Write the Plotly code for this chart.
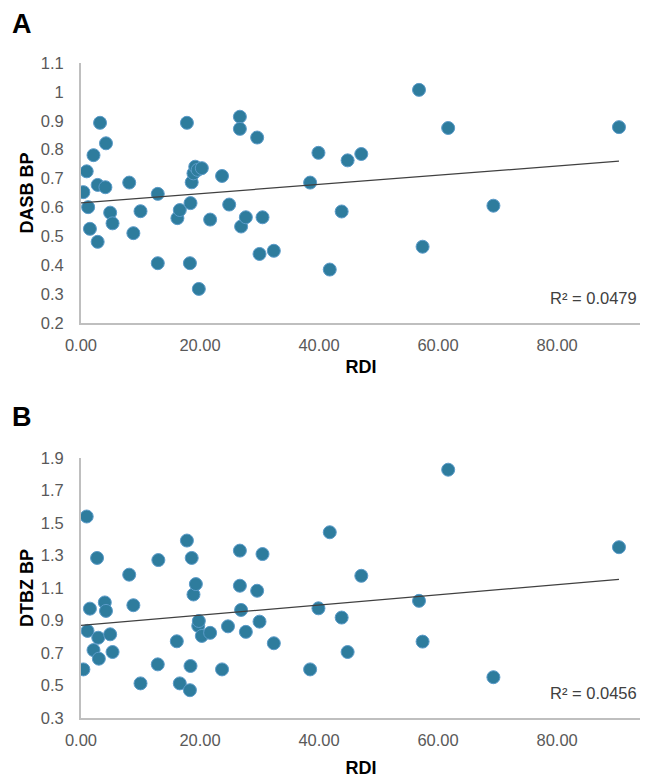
import numpy as np
import plotly.graph_objects as go

# Panel A: RDI vs DASB BP
rdi_a = [0.4, 0.96, 1.2, 1.5, 2.1, 2.8, 2.8, 3.2, 4.1, 4.2, 4.9, 5.3, 8.1, 8.8,
         10.0, 12.9, 12.9, 16.2, 16.6, 17.8, 18.3, 18.4, 18.6, 18.9, 19.2, 19.6,
         19.8, 20.3, 21.7, 23.7, 24.9, 26.7, 26.7, 26.9, 27.7, 29.6, 30.0, 30.5,
         32.4, 38.5, 39.9, 41.8, 43.8, 44.8, 47.1, 56.8, 57.4, 61.7, 69.3, 90.4]
dasb_bp = [0.653, 0.725, 0.601, 0.526, 0.781, 0.678, 0.481, 0.893, 0.670, 0.822,
           0.582, 0.545, 0.686, 0.511, 0.587, 0.647, 0.407, 0.563, 0.591, 0.893,
           0.407, 0.615, 0.687, 0.718, 0.741, 0.730, 0.318, 0.736, 0.558, 0.709,
           0.610, 0.914, 0.872, 0.534, 0.566, 0.842, 0.439, 0.566, 0.450, 0.686,
           0.789, 0.385, 0.586, 0.763, 0.785, 1.007, 0.464, 0.875, 0.606, 0.878]

# Panel B: RDI vs DTBZ BP
rdi_b = [0.4, 0.96, 1.1, 1.5, 2.1, 2.7, 2.9, 3.0, 4.0, 4.2, 4.9, 5.3, 8.1, 8.8,
         10.0, 13.0, 12.9, 16.1, 16.6, 17.8, 18.3, 18.4, 18.6, 18.9, 19.3, 19.7,
         19.8, 20.3, 21.7, 23.7, 24.7, 26.7, 26.7, 26.9, 27.7, 29.6, 30.0, 30.5,
         32.4, 38.5, 39.9, 41.8, 43.8, 44.8, 47.1, 56.8, 57.4, 61.7, 69.3, 90.4]
dtbz_bp = [0.599, 1.540, 0.836, 0.973, 0.718, 1.285, 0.794, 0.665, 1.011, 0.959,
           0.815, 0.706, 1.182, 0.994, 0.513, 1.272, 0.630, 0.772, 0.513, 1.392,
           0.471, 0.620, 1.285, 1.060, 1.124, 0.867, 0.897, 0.805, 0.824, 0.599,
           0.864, 1.330, 1.114, 0.965, 0.830, 1.083, 0.893, 1.309, 0.760, 0.599,
           0.975, 1.443, 0.918, 0.706, 1.175, 1.021, 0.770, 1.828, 0.551, 1.351]

r2_labels = ["R² = 0.0479", "R² = 0.0456"]
x_ticks = [0, 20, 40, 60, 80]

dot_color = "#2E7C9D"
FONT = "Liberation Sans, Arial"
tick_font = dict(family=FONT, size=16.5, color="#595959")
title_font = dict(family=FONT, size=18, color="#000000")

W, H = 640, 771  # page body has an 8px margin

fig = go.Figure()

panels = [
    (rdi_a, dasb_bp, "x", "y"),
    (rdi_b, dtbz_bp, "x2", "y2"),
]
for xs, ys, xa, ya in panels:
    fig.add_trace(go.Scatter(
        x=xs, y=ys, mode="markers", xaxis=xa, yaxis=ya,
        marker=dict(size=13, color=dot_color, line=dict(color="#5B9BC9", width=1)),
        showlegend=False,
    ))
    # linear trendline
    slope, icpt = np.polyfit(xs, ys, 1)
    lx = np.array([0, max(xs)])
    fig.add_trace(go.Scatter(
        x=lx, y=slope * lx + icpt, mode="lines", xaxis=xa, yaxis=ya,
        line=dict(color="#404040", width=1.3), showlegend=False,
    ))

xaxis_common = dict(
    range=[0, 94.1], tickvals=x_ticks, tickformat=".2f",
    showline=True, linecolor="#BFBFBF", linewidth=2, showgrid=False,
    zeroline=False, ticks="", tickfont=tick_font, ticklabelstandoff=6,
    automargin=False,
)
yaxis_common = dict(
    showline=True, linecolor="#BFBFBF", linewidth=2, showgrid=False,
    zeroline=False, ticks="", tickfont=tick_font, ticklabelstandoff=12,
    automargin=False,
)

fig.update_layout(
    width=W, height=H,
    margin=dict(l=0, r=0, t=0, b=0),
    plot_bgcolor="white", paper_bgcolor="white",
    xaxis=dict(xaxis_common, domain=[73 / W, 633 / W], anchor="y",
               title=dict(text="<b>RDI</b>", font=title_font, standoff=8)),
    yaxis=dict(yaxis_common, domain=[1 - 315 / H, 1 - 55 / H], anchor="x",
               range=[0.2, 1.1], tick0=0.2, dtick=0.1,
               title=dict(text="<b>DASB BP</b>", font=title_font, standoff=2)),
    xaxis2=dict(xaxis_common, domain=[73 / W, 633 / W], anchor="y2",
                title=dict(text="<b>RDI</b>", font=title_font, standoff=14)),
    yaxis2=dict(yaxis_common, domain=[1 - 710 / H, 1 - 450 / H], anchor="x2",
                range=[0.3, 1.9], tick0=0.3, dtick=0.2,
                title=dict(text="<b>DTBZ BP</b>", font=title_font, standoff=2)),
)

# panel letters
for letter, ypos in [("A", 1.0), ("B", 1 - 393 / H)]:
    fig.add_annotation(text=f"<b>{letter}</b>", xref="paper", yref="paper",
                       x=0.004, y=ypos, xanchor="left", yanchor="top",
                       showarrow=False, borderpad=0,
                       font=dict(family=FONT, size=27, color="#000000"))

# R-squared labels
for label, xr, yr, yv in [(r2_labels[0], "x", "y", 0.287), (r2_labels[1], "x2", "y2", 0.452)]:
    fig.add_annotation(text=label, xref=xr, yref=yr, x=93.7, y=yv,
                       xanchor="right", yanchor="middle", showarrow=False,
                       font=dict(family=FONT, size=16.5, color="#404040"))

fig.write_html("out.html")
